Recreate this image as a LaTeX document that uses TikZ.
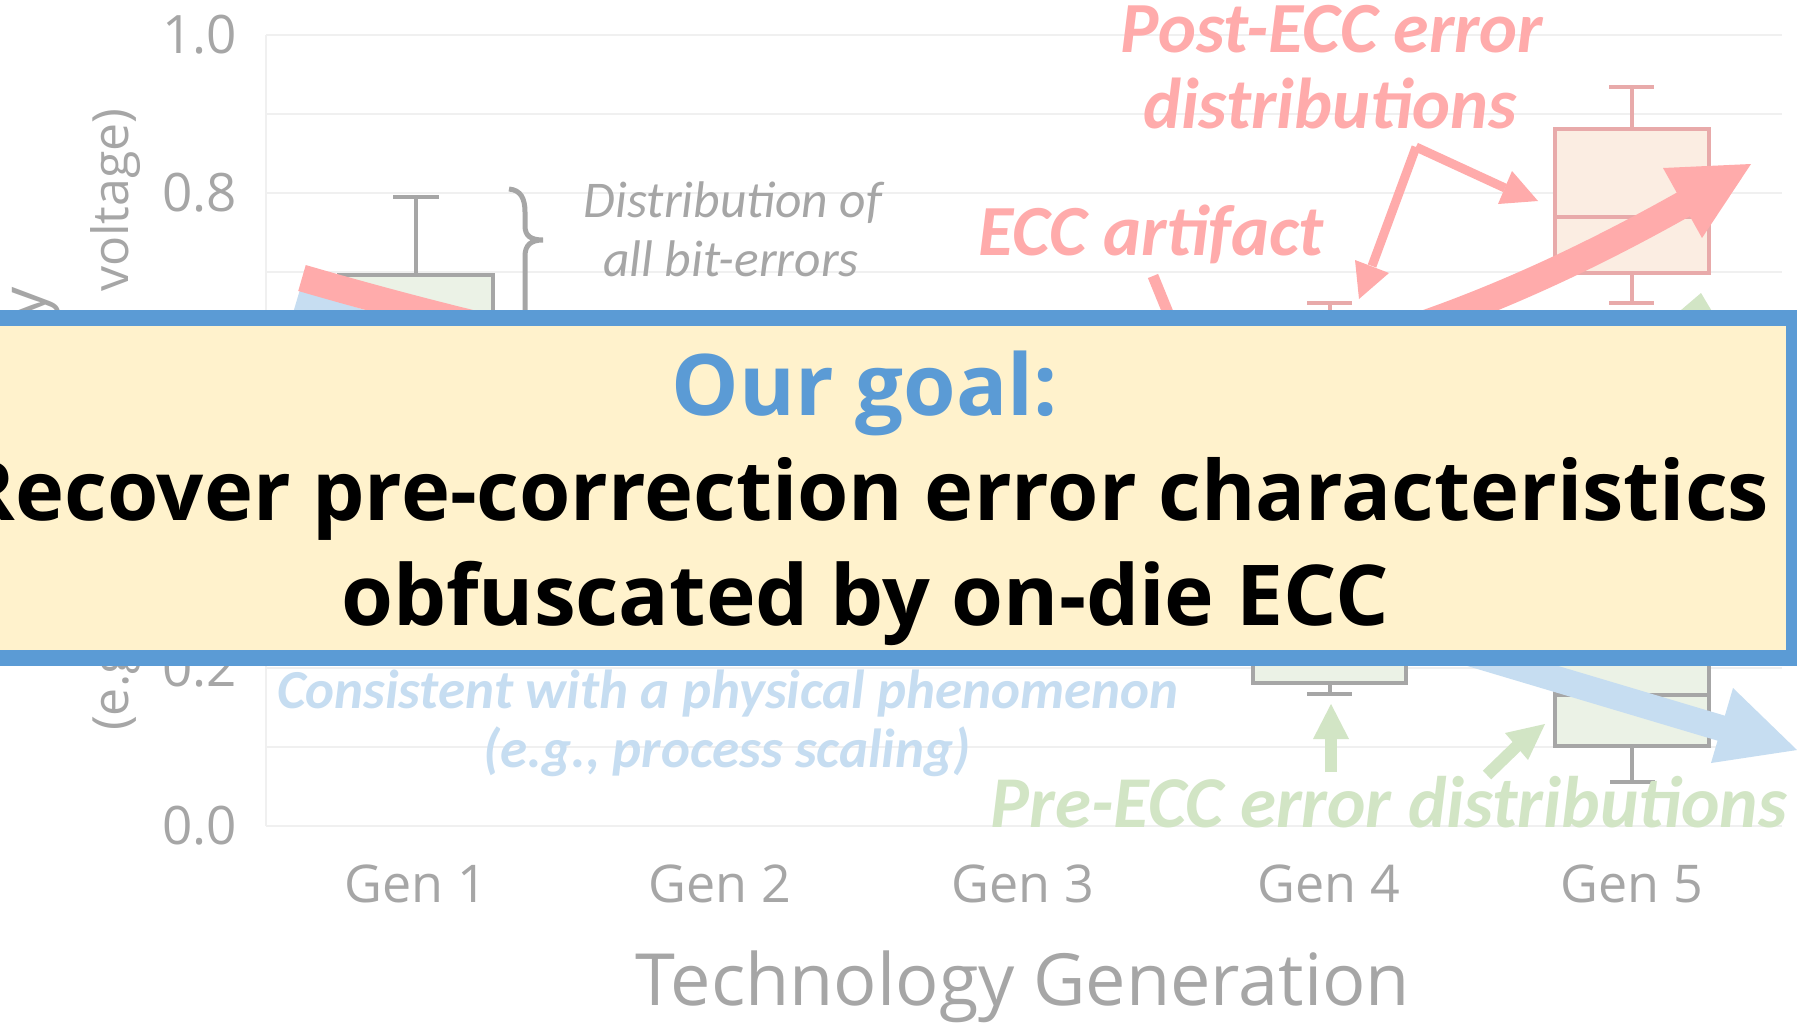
\documentclass[tikz,border=0pt]{standalone}
\usepackage{fontspec}
\setmainfont{Open Sans}
\newfontfamily\calib{Carlito}
\definecolor{gridgray}{HTML}{F0F0F0}
\definecolor{axgray}{HTML}{A6A6A6}
\definecolor{redc}{HTML}{FFABAB}
\definecolor{bluec}{HTML}{C6DDF1}
\definecolor{greenc}{HTML}{D2E5C5}
\definecolor{boxgreen}{HTML}{EBF2E6}
\definecolor{boxpeach}{HTML}{FBEDE2}
\definecolor{boxpink}{HTML}{E8AAAA}
\definecolor{bannerfill}{HTML}{FFF2CC}
\definecolor{bannerblue}{HTML}{5B9BD5}
\newcommand{\fs}[1]{\fontsize{#1}{#1}\selectfont}
\tikzset{
  grid line/.style={gridgray, line width=2},
  ticklabel/.style={anchor=east, inner sep=0, text=axgray, font=\fs{53}},
  genlabel/.style={anchor=base, inner sep=0, text=axgray, font=\fs{52}},
  graybox/.style={draw=axgray, fill=boxgreen, line width=4},
  pinkbox/.style={draw=boxpink, fill=boxpeach, line width=4},
  graywhisker/.style={axgray, line width=4},
  pinkwhisker/.style={boxpink, line width=4},
  note/.style={inner sep=0, font=\calib\bfseries\itshape\fs{72}},
}
\begin{document}
\begin{tikzpicture}[x=1pt,y=-1pt]
\clip (0,0) rectangle (1797,1023);
\fill[white] (0,0) rectangle (1797,1023);

% plot grid
\foreach \k in {0,...,10}
  \draw[grid line] (266,{35+\k*79.1}) -- (1782,{35+\k*79.1});
\draw[grid line] (266,35) -- (266,826);

% tick labels
\node[ticklabel] (t10) at (237,35) {1.0};
\node[ticklabel] (t08) at (237,193) {0.8};
\node[ticklabel] (t06) at (237,351) {0.6};
\node[ticklabel] (t04) at (237,509) {0.4};
\node[ticklabel] (t02) at (237,668) {0.2};
\node[ticklabel] (t00) at (237,826) {0.0};

% category labels
\node[genlabel] (g1) at (416,902) {Gen 1};
\node[genlabel] (g2) at (720,902) {Gen 2};
\node[genlabel] (g3) at (1023,902) {Gen 3};
\node[genlabel] (g4) at (1329,902) {Gen 4};
\node[genlabel] (g5) at (1632,902) {Gen 5};
\node[anchor=base, inner sep=0, text=axgray, font=\fs{72}] (xtitle) at (1023,1005) {Technology Generation};

% axis title
\node[rotate=90, anchor=base east, inner sep=0, text=axgray, font=\fs{62}] (ytitleA) at (45,287) {Probability};
\node[rotate=90, anchor=base east, inner sep=0, text=axgray, font=\fs{50}] (ytitleB) at (128,108) {(e.g., error rate vs. voltage)};

% Gen 1 box
\draw[graybox] (339,275) rectangle (493,520);
\draw[graywhisker] (416,197) -- (416,275);
\draw[graywhisker] (393,197) -- (439,197);

% brace and its note
\draw[axgray, line width=5] (509,189) .. controls (521,190) and (525,199) .. (525,212)
  -- (525,226) .. controls (525,236) and (531,240) .. (543,240)
  .. controls (531,240) and (525,245) .. (525,256) -- (525,480);
\node[anchor=base, inner sep=0, text=axgray, font=\calib\itshape\fs{51.5}] (dist1) at (733,217) {Distribution of};
\node[anchor=base, inner sep=0, text=axgray, font=\calib\itshape\fs{51.5}] (dist2) at (731,276) {all bit-errors};

% Gen 4 / Gen 5 post-correction boxes
\draw[pinkwhisker] (1329.5,303) -- (1329.5,340);
\draw[pinkwhisker] (1307,303) -- (1352,303);
\draw[pinkwhisker] (1631.5,87) -- (1631.5,129);
\draw[pinkwhisker] (1609,87) -- (1654,87);
\draw[pinkbox] (1555,129) rectangle (1709,273);
\draw[pinkwhisker] (1555,217) -- (1709,217);
\draw[pinkwhisker] (1631.5,273) -- (1631.5,303);
\draw[pinkwhisker] (1609,303) -- (1654,303);

% Gen 4 / Gen 5 pre-correction boxes
\draw[graybox] (1253,600) rectangle (1406,683);
\draw[graywhisker] (1329.5,683) -- (1329.5,694);
\draw[graywhisker] (1307,694) -- (1352,694);
\draw[graybox] (1555,600) rectangle (1709,746);
\draw[graywhisker] (1555,695) -- (1709,695);
\draw[graywhisker] (1632,746) -- (1632,782);
\draw[graywhisker] (1610,782) -- (1655,782);

% green trend tip
\fill[greenc] (1701,293) -- (1732,345) -- (1640,345) -- cycle;

% blue trend
\coordinate (bS) at (296,303);
\coordinate (bE) at (1724,729);
\draw[bluec, line width=26] (bS) -- (bE);
\fill[bluec] (1733,688) -- (1797,750) -- (1711,763) -- cycle;

% red trend
\coordinate (rS) at (302,278);
\coordinate (rE) at (1684,204);
\draw[redc, line width=27] (rS) .. controls (950,466) and (1300,420) .. (rE);
\fill[redc] (1663,168) -- (1751,164) -- (1702,238) -- cycle;

% ECC artifact pointer
\coordinate (artA) at (1153,276);
\coordinate (artB) at (1175,330);
\draw[redc, line width=11] (artA) -- (artB);

% post-correction pointers
\coordinate (pv) at (1416,147);
\coordinate (pl) at (1372,266);
\coordinate (pr) at (1505,188);
\draw[redc, line width=9] (pv) -- (pl);
\draw[redc, line width=9] (pv) -- (pr);
\fill[redc] (1355,260) -- (1389,273) -- (1359,299) -- cycle;
\fill[redc] (1512,171) -- (1538,201) -- (1498,204) -- cycle;

% pre-correction pointers
\draw[greenc, line width=12] (1331,772) -- (1331,737);
\fill[greenc] (1313,739) -- (1349,739) -- (1331,704) -- cycle;
\draw[greenc, line width=12] (1487,775) -- (1517,746);
\fill[greenc] (1505,733) -- (1545,724) -- (1528,760) -- cycle;

% notes
\node[note, text=redc, anchor=base] (post1) at (1332,52) {Post-ECC error};
\node[note, text=redc, anchor=base] (post2) at (1330,128) {distributions};
\node[note, text=redc, anchor=base] (art) at (1151,255) {ECC artifact};
\node[note, text=bluec, anchor=base, font=\calib\bfseries\itshape\fs{55}] (phys1) at (728,708) {Consistent with a physical phenomenon};
\node[note, text=bluec, anchor=base, font=\calib\bfseries\itshape\fs{55}] (phys2) at (727,767) {(e.g., process scaling)};
\node[note, text=greenc, anchor=base, font=\calib\bfseries\itshape\fs{73}] (pre) at (1389,827) {Pre-ECC error distributions};

% goal banner
\draw[bannerblue, fill=bannerfill, line width=16] (-50,318) rectangle (1794,658);
\node[anchor=base, inner sep=0, text=bannerblue, font=\bfseries\fs{85}] (goal) at (865,415) {Our goal:};
\node[anchor=base, inner sep=0, font=\bfseries\fs{83}] (goal2) at (865,520) {Recover pre-correction error characteristics};
\node[anchor=base, inner sep=0, font=\bfseries\fs{84}] (goal3) at (865,625) {obfuscated by on-die ECC};
\end{tikzpicture}
\end{document}
